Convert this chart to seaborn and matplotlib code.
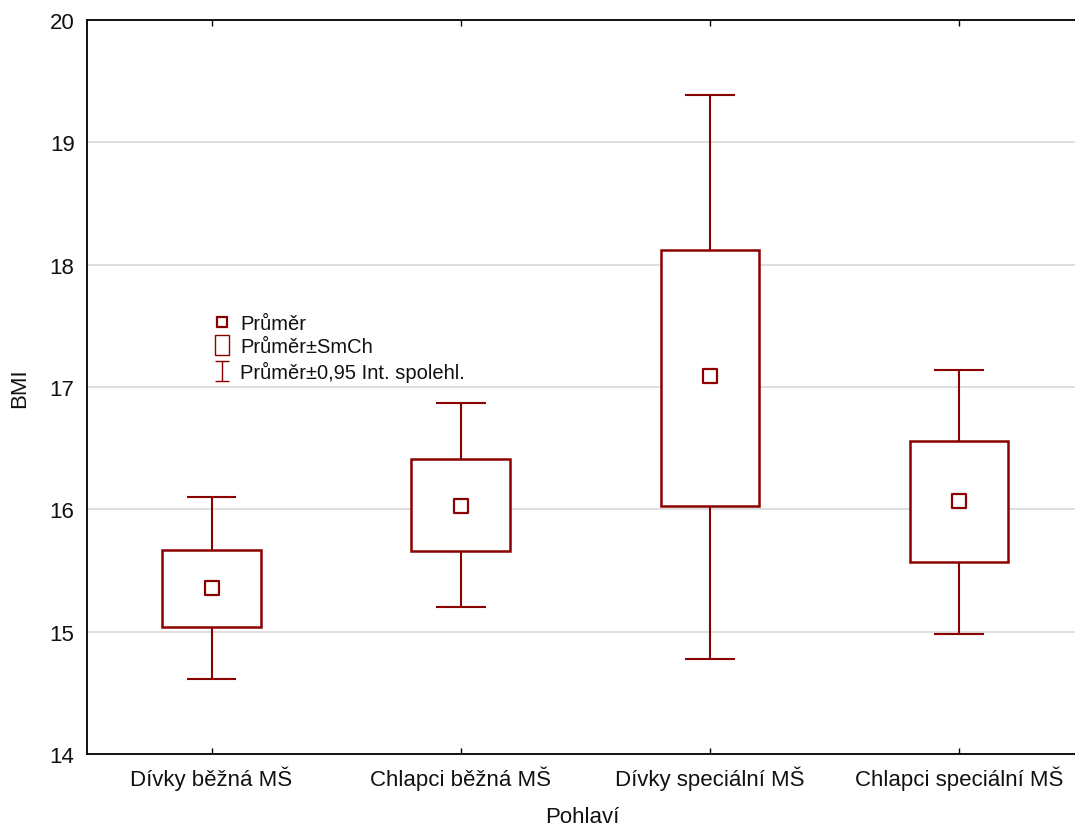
import matplotlib
matplotlib.use("Agg")
import matplotlib.pyplot as plt
import seaborn as sns
import pandas as pd
import numpy as np
from matplotlib.lines import Line2D
from matplotlib.path import Path

categories = ["Dívky běžná MŠ", "Chlapci běžná MŠ", "Dívky speciální MŠ", "Chlapci speciální MŠ"]
means = [15.36, 16.03, 17.09, 16.07]
se_low = [15.04, 15.66, 16.03, 15.57]
se_high = [15.67, 16.41, 18.12, 16.56]
ci_low = [14.61, 15.20, 14.78, 14.98]
ci_high = [16.10, 16.87, 19.39, 17.14]

df = pd.DataFrame({"Pohlaví": categories, "BMI": means,
                   "se_low": se_low, "se_high": se_high,
                   "ci_low": ci_low, "ci_high": ci_high})

sns.set_theme(style="white")
plt.rcParams['font.family'] = ['Liberation Sans', 'DejaVu Sans']

color = "#8B0000"
fig = plt.figure(figsize=(10.75, 8.29), dpi=100)
ax = fig.add_axes([87/1075, 1 - 755/829, (1075 - 87)/1075 + 0.002, (755 - 21)/829])

x = np.arange(len(categories))
box_w = 0.395
cap_w = 0.2

# whiskers (CI)
ax.vlines(x, df["ci_low"], df["se_low"], color=color, lw=1.5, zorder=2)
ax.vlines(x, df["se_high"], df["ci_high"], color=color, lw=1.5, zorder=2)
ax.hlines(df["ci_low"], x - cap_w/2, x + cap_w/2, color=color, lw=1.5, zorder=2)
ax.hlines(df["ci_high"], x - cap_w/2, x + cap_w/2, color=color, lw=1.5, zorder=2)

# SE boxes
ax.bar(x, df["se_high"] - df["se_low"], bottom=df["se_low"], width=box_w,
       facecolor="white", edgecolor=color, linewidth=1.8, zorder=3)

# means
sns.scatterplot(data=df, x="Pohlaví", y="BMI", marker="s", s=100,
                facecolor="white", edgecolor=color, linewidth=1.6, ax=ax, zorder=4,
                legend=False)

ax.set_xlim(-0.5, 3.475)
ax.set_ylim(14, 20)
ax.set_yticks([14, 15, 16, 17, 18, 19, 20])
ax.set_xticks(x)
ax.set_xticklabels(categories)
ax.yaxis.grid(True, color="#d9d9d9", lw=1.2)
ax.xaxis.grid(False)
ax.set_axisbelow(True)

for s in ["left", "bottom", "top"]:
    ax.spines[s].set_visible(True)
    ax.spines[s].set_color("black")
    ax.spines[s].set_linewidth(1.3)
ax.spines["right"].set_visible(False)

ax.tick_params(axis="x", direction="in", length=4, width=1, top=True, bottom=True,
               labelsize=16, pad=8, colors="black")
ax.tick_params(axis="y", length=0, labelsize=16, pad=9, colors="black")
for t in ax.get_xticklabels() + ax.get_yticklabels():
    t.set_color("#111111")

ax.set_xlabel("Pohlaví", fontsize=16, labelpad=12, color="#111111")
ax.set_ylabel("BMI", fontsize=16, labelpad=14, color="#111111")

# legend handles
ibeam = Path([(-0.35, -0.5), (0.35, -0.5), (0, -0.5), (0, 0.5), (-0.35, 0.5), (0.35, 0.5)],
             [Path.MOVETO, Path.LINETO, Path.MOVETO, Path.LINETO, Path.MOVETO, Path.LINETO])
h1 = Line2D([], [], ls="none", marker="s", markersize=7, markerfacecolor="white",
            markeredgecolor=color, markeredgewidth=1.6)
rect = Path([(-0.36, -0.5), (0.36, -0.5), (0.36, 0.5), (-0.36, 0.5), (-0.36, -0.5)],
            [Path.MOVETO, Path.LINETO, Path.LINETO, Path.LINETO, Path.CLOSEPOLY])
h2 = Line2D([], [], ls="none", marker=rect, markersize=14, markerfacecolor="white",
            markeredgecolor=color, markeredgewidth=1.0)
h3 = Line2D([], [], ls="none", marker=ibeam, markersize=14, markerfacecolor="none",
            markeredgecolor=color, markeredgewidth=1.0)
leg = fig.legend([h1, h2, h3], ["Průměr", "Průměr±SmCh", "Průměr±0,95 Int. spolehl."],
                 loc="upper left", bbox_to_anchor=(203/1075, 1 - 305/829),
                 frameon=False, fontsize=14.5, handlelength=0.9, handletextpad=0.45,
                 labelspacing=0.22, borderpad=0)
for t in leg.get_texts():
    t.set_color("#111111")

fig.savefig("out.png", dpi=100)
